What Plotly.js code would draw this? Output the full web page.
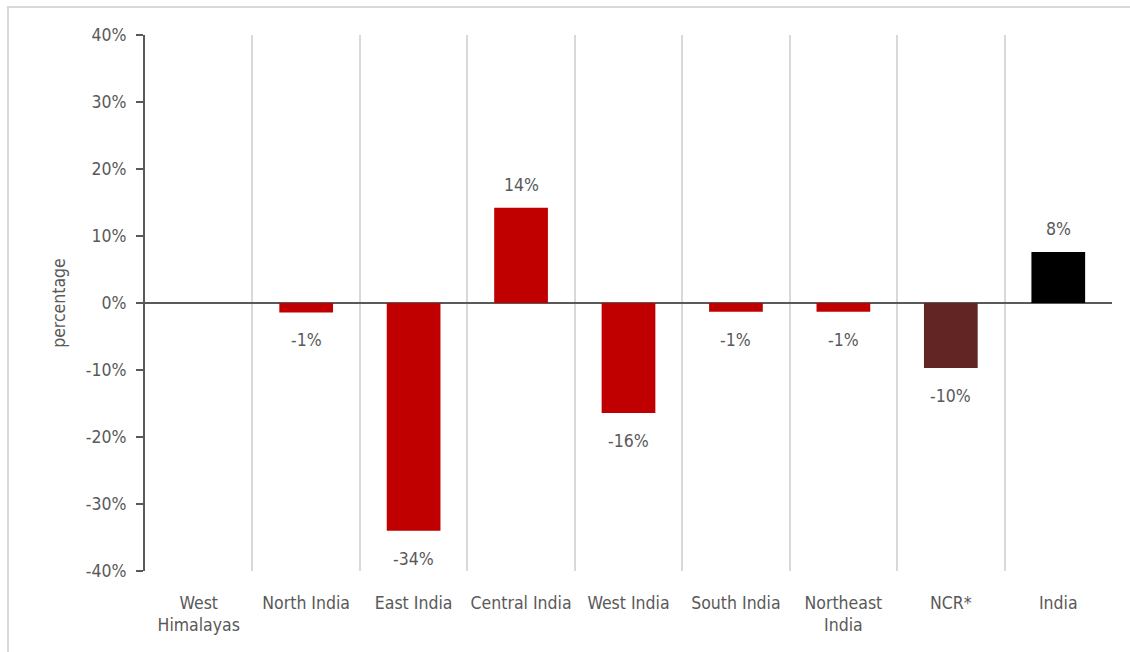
<!DOCTYPE html>
<html>
<head>
<meta charset="utf-8">
<script src="https://cdn.plot.ly/plotly-3.0.1.min.js"></script>
<style>html,body{margin:0;padding:0;background:#fff}#chart{width:1130px;height:652px}</style>
</head>
<body>
<div id="chart"></div>
<script>
const categories = ["West<br>Himalayas", "North India", "East India", "Central India", "West India", "South India", "Northeast<br>India", "NCR*", "India"];
const values = [null, -1.4, -34.0, 14.2, -16.4, -1.3, -1.3, -9.7, 7.6];
const barColors = ["#C00000", "#C00000", "#C00000", "#C00000", "#C00000", "#C00000", "#C00000", "#632523", "#000000"];
const yTickVals = [-40, -30, -20, -10, 0, 10, 20, 30, 40];
const yTickText = ["-40%", "-30%", "-20%", "-10%", "0%", "10%", "20%", "30%", "40%"];

const FONT = "'DejaVu Sans Condensed', 'Liberation Sans Narrow', sans-serif";
const GREY = "#595959";
const FS = 17.5;

const trace = {
  type: "bar",
  x: categories,
  y: values,
  marker: {color: barColors, line: {width: 0}},
  hoverinfo: "x+y"
};

const labelAnnotations = categories.map((c, i) => values[i] === null ? null : ({
  x: c, y: values[i], xref: "x", yref: "y",
  text: Math.round(values[i]) + "%",
  showarrow: false,
  yanchor: "middle",
  yshift: values[i] >= 0 ? 23 : -28,
  font: {family: FONT, size: FS, color: GREY}
})).filter(a => a);

const layout = {
  width: 1130, height: 652,
  margin: {l: 145, r: 18, t: 35, b: 81},
  paper_bgcolor: "#fff", plot_bgcolor: "#fff",
  bargap: 0.5,
  showlegend: false,
  font: {family: FONT, size: FS, color: GREY},
  xaxis: {
    type: "category",
    tickson: "boundaries",
    tickangle: 0,
    showgrid: true, gridcolor: "#d9d9d9", gridwidth: 2,
    ticks: "", showline: false, zeroline: false,
    ticklabelstandoff: 19,
    tickfont: {family: FONT, size: FS, color: GREY},
    automargin: false
  },
  yaxis: {
    range: [-40, 40],
    tickvals: yTickVals, ticktext: yTickText,
    showgrid: false,
    showline: true, linecolor: GREY, linewidth: 2,
    ticks: "outside", ticklen: 7, tickwidth: 2, tickcolor: GREY,
    ticklabelstandoff: 6,
    zeroline: true, zerolinecolor: GREY, zerolinewidth: 2,
    tickfont: {family: FONT, size: FS, color: GREY},
    title: {text: "percentage", font: {family: FONT, size: FS, color: GREY}, standoff: 16},
    automargin: false
  },
  annotations: labelAnnotations,
  shapes: [
    {type: "path", xref: "paper", yref: "paper",
     path: "M -0.1417 -0.3 L -0.1417 1.0522 L 1.05 1.0522",
     line: {color: "#d9d9d9", width: 2}}
  ]
};

Plotly.newPlot("chart", [trace], layout, {displayModeBar: false, staticPlot: true});
</script>
</body>
</html>
